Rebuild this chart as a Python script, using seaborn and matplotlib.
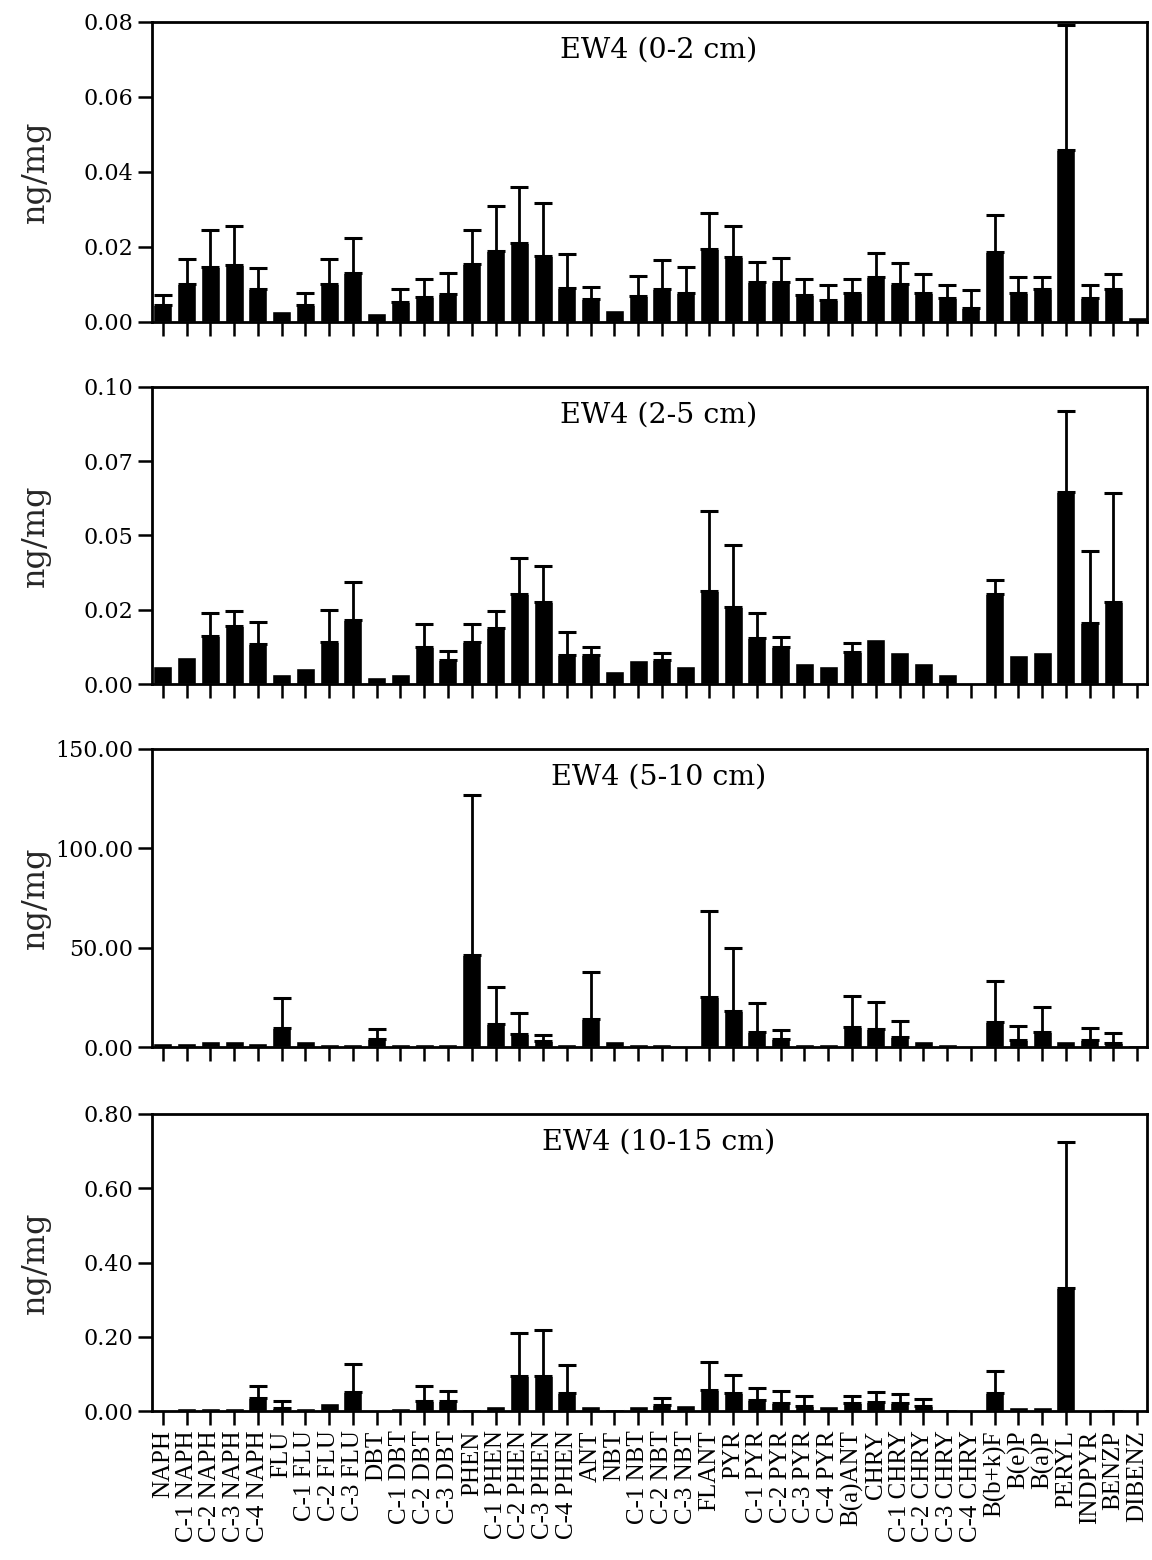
import numpy as np
import pandas as pd
import matplotlib
matplotlib.use("Agg")
import matplotlib.pyplot as plt
import seaborn as sns

nan = np.nan

compounds = [
    "NAPH", "C-1 NAPH", "C-2 NAPH", "C-3 NAPH", "C-4 NAPH",
    "FLU", "C-1 FLU", "C-2 FLU", "C-3 FLU",
    "DBT", "C-1 DBT", "C-2 DBT", "C-3 DBT",
    "PHEN", "C-1 PHEN", "C-2 PHEN", "C-3 PHEN", "C-4 PHEN",
    "ANT", "NBT", "C-1 NBT", "C-2 NBT", "C-3 NBT",
    "FLANT", "PYR", "C-1 PYR", "C-2 PYR", "C-3 PYR", "C-4 PYR",
    "B(a)ANT", "CHRY", "C-1 CHRY", "C-2 CHRY", "C-3 CHRY", "C-4 CHRY",
    "B(b+k)F", "B(e)P", "B(a)P", "PERYL", "INDPYR", "BENZP", "DIBENZ",
]

# EW4, 0-2 cm
mean_0_2 = [0.0044, 0.0100, 0.0145, 0.0151, 0.0087, 0.0029, 0.0044, 0.0101, 0.0131,
            0.0022, 0.0052, 0.0067, 0.0073, 0.0153, 0.0189, 0.0211, 0.0175, 0.0089,
            0.0060, 0.0031, 0.0068, 0.0086, 0.0077, 0.0193, 0.0173, 0.0107, 0.0107,
            0.0071, 0.0057, 0.0077, 0.0120, 0.0100, 0.0077, 0.0064, 0.0036, 0.0187,
            0.0077, 0.0086, 0.0459, 0.0064, 0.0086, 0.0013]
sd_0_2 = [0.0027, 0.0066, 0.0099, 0.0105, 0.0057, nan, 0.0033, 0.0065, 0.0091,
          nan, 0.0034, 0.0047, 0.0056, 0.0091, 0.0119, 0.0147, 0.0142, 0.0091,
          0.0033, nan, 0.0054, 0.0079, 0.0070, 0.0098, 0.0081, 0.0053, 0.0064,
          0.0042, 0.0040, 0.0036, 0.0064, 0.0056, 0.0049, 0.0033, 0.0048, 0.0097,
          0.0042, 0.0033, 0.0332, 0.0033, 0.0040, nan]

# EW4, 2-5 cm
mean_2_5 = [0.0063, 0.0091, 0.0162, 0.0197, 0.0135, 0.0035, 0.0054, 0.0143, 0.0216,
            0.0026, 0.0035, 0.0127, 0.0082, 0.0143, 0.0190, 0.0304, 0.0278, 0.0099,
            0.0099, 0.0045, 0.0082, 0.0082, 0.0063, 0.0314, 0.0261, 0.0155, 0.0127,
            0.0073, 0.0063, 0.0108, 0.0151, 0.0108, 0.0073, 0.0035, 0.0000, 0.0304,
            0.0099, 0.0108, 0.0647, 0.0205, 0.0278, 0.0004]
sd_2_5 = [nan, nan, 0.0079, 0.0050, 0.0075, nan, nan, 0.0107, 0.0129,
          nan, nan, 0.0076, 0.0030, 0.0060, 0.0057, 0.0119, 0.0120, 0.0078,
          0.0028, nan, nan, 0.0022, nan, 0.0269, 0.0207, 0.0084, 0.0031,
          nan, nan, 0.0032, nan, nan, nan, nan, nan, 0.0047,
          nan, nan, 0.0272, 0.0243, 0.0366, nan]

# EW4, 5-10 cm
mean_5_10 = [2.0, 2.0, 3.0, 3.0, 2.0, 9.6, 3.0, 1.8, 1.8,
             4.0, 1.8, 1.8, 1.8, 46.5, 11.9, 6.7, 3.2, 1.8,
             14.3, 3.0, 1.8, 1.8, 0.0, 25.2, 18.5, 7.9, 4.0,
             1.8, 1.8, 10.4, 9.2, 5.0, 3.0, 1.8, 0.0, 12.9,
             3.7, 7.6, 3.0, 3.7, 2.4, 1.2]
sd_5_10 = [nan, nan, nan, nan, nan, 15.4, nan, nan, nan,
           5.1, nan, nan, nan, 80.5, 18.3, 10.4, 3.0, nan,
           23.5, nan, nan, nan, nan, 43.4, 31.3, 14.2, 4.7,
           nan, nan, 15.6, 13.8, 8.4, nan, nan, nan, 20.5,
           7.2, 12.5, nan, 5.9, 5.0, nan]

# EW4, 10-15 cm
mean_10_15 = [0.003, 0.008, 0.008, 0.008, 0.034, 0.008, 0.008, 0.021, 0.050,
              0.002, 0.008, 0.028, 0.028, 0.006, 0.013, 0.093, 0.093, 0.049,
              0.013, 0.006, 0.013, 0.015, 0.015, 0.057, 0.049, 0.029, 0.022,
              0.013, 0.013, 0.021, 0.025, 0.021, 0.013, 0.005, 0.000, 0.048,
              0.012, 0.012, 0.331, 0.000, 0.005, 0.000]
sd_10_15 = [nan, nan, nan, nan, 0.034, 0.018, nan, nan, 0.076,
            nan, nan, 0.040, 0.026, nan, nan, 0.118, 0.125, 0.075,
            nan, nan, nan, 0.019, nan, 0.075, 0.047, 0.034, 0.032,
            0.027, nan, 0.019, 0.027, 0.024, 0.018, nan, nan, 0.060,
            nan, nan, 0.394, nan, nan, nan]

panel_titles = ["EW4 (0-2 cm)", "EW4 (2-5 cm)", "EW4 (5-10 cm)", "EW4 (10-15 cm)"]
panel_means = [mean_0_2, mean_2_5, mean_5_10, mean_10_15]
panel_sds = [sd_0_2, sd_2_5, sd_5_10, sd_10_15]
panel_ymax = [0.08, 0.10, 150.0, 0.80]
panel_yticks = [
    [0.0, 0.02, 0.04, 0.06, 0.08],
    [0.0, 0.025, 0.05, 0.075, 0.10],
    [0.0, 50.0, 100.0, 150.0],
    [0.0, 0.2, 0.4, 0.6, 0.8],
]
panel_yticklabels = [
    ["0.00", "0.02", "0.04", "0.06", "0.08"],
    ["0.00", "0.02", "0.05", "0.07", "0.10"],
    ["0.00", "50.00", "100.00", "150.00"],
    ["0.00", "0.20", "0.40", "0.60", "0.80"],
]

sns.set_theme(style="ticks")
plt.rcParams["font.family"] = ["DejaVu Serif"]

W, H = 1152, 1560
fig = plt.figure(figsize=(W / 100, H / 100), dpi=100)

# axes frames in pixel units: (top, bottom)
frames = [(21.7, 321.7), (386.7, 684.3), (749.0, 1047.3), (1114.0, 1411.0)]
left_px, right_px = 152.3, 1147.0

for k, (top, bot) in enumerate(frames):
    ax = fig.add_axes([left_px / W, 1 - bot / H, (right_px - left_px) / W, (bot - top) / H])
    df = pd.DataFrame({"compound": compounds, "value": panel_means[k]})
    sns.barplot(data=df, x="compound", y="value", order=compounds, color="black",
                saturation=1, width=0.8, errorbar=None, ax=ax)

    # upper-only error whiskers
    x = np.arange(len(compounds))
    m = np.array(panel_means[k], dtype=float)
    sd = np.array(panel_sds[k], dtype=float)
    ok = ~np.isnan(sd)
    ax.errorbar(x[ok], m[ok], yerr=[np.zeros(ok.sum()), sd[ok]], fmt="none",
                ecolor="black", elinewidth=2.0, capsize=6.5, capthick=2.2, zorder=3)

    ax.set_xlim(-0.44, 41.41)
    ax.set_ylim(0, panel_ymax[k])
    ax.set_yticks(panel_yticks[k])
    ax.set_yticklabels(panel_yticklabels[k], fontsize=16, family="DejaVu Serif")
    ax.set_xticks(x)
    if k == 3:
        ax.set_xticklabels(compounds, rotation=90, fontsize=18,
                           family="Liberation Serif")
    else:
        ax.set_xticklabels([])
    ax.set_xlabel("")
    ax.set_ylabel("ng/mg", fontsize=23, family="DejaVu Serif")
    ax.yaxis.set_label_coords(-0.118, 0.5)
    ax.yaxis.label.set_va("center")

    ax.tick_params(axis="both", direction="out", length=10, width=1.8,
                   color="black", labelcolor="black")
    ax.tick_params(axis="y", pad=3.5)
    ax.tick_params(axis="x", pad=4)
    for sp in ax.spines.values():
        sp.set_visible(True)
        sp.set_linewidth(2.0)
        sp.set_color("black")

    ax.text(0.509, 1 - 36.0 / (bot - top), panel_titles[k], transform=ax.transAxes,
            ha="center", va="baseline", fontsize=20.5, family="DejaVu Serif",
            color="black")

fig.savefig("out.png", dpi=100, facecolor="white")
